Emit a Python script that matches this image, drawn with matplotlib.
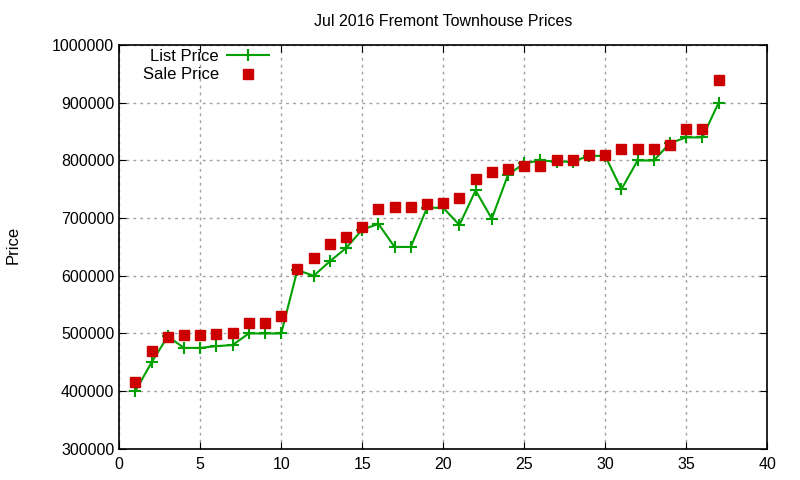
import numpy as np
import matplotlib
matplotlib.use('Agg')
import matplotlib.pyplot as plt

plt.rcParams['font.family'] = ['Liberation Sans', 'DejaVu Sans']

# 일자별 데이터 (1..37)
days = list(range(1, 38))
list_price = [400000, 450000, 495000, 475000, 475000, 478000, 480000, 500000, 500000, 500000,
              610000, 600000, 625000, 648000, 680000, 690000, 650000, 650000, 718000, 718000,
              688000, 748000, 699000, 775000, 795000, 800000, 798000, 798000, 808000, 808000,
              750000, 800000, 800000, 830000, 840000, 840000, 900000]
sale_price = [415000, 470000, 493000, 497000, 497000, 499000, 501000, 518000, 518000, 530000,
              612000, 630000, 655000, 668000, 685000, 716000, 720000, 720000, 725000, 727000,
              735000, 768000, 780000, 786000, 791000, 791000, 800000, 800000, 810000, 810000,
              820000, 820000, 820000, 826000, 855000, 855000, 940000]

title = 'Jul 2016 Fremont Townhouse Prices'
xticks = np.arange(0, 45, 5)
yticks = np.arange(300000, 1100000, 100000)

fig = plt.figure(figsize=(8, 4.8), dpi=100)
ax = fig.add_axes([0.149, 0.065, 0.81, 0.841])

ax.plot(days, list_price, color='#00a000', lw=1.5, marker='+', ms=9, mew=1.5, label='List Price')
ax.plot(days, sale_price, ls='none', color='#cc0000', marker='s', ms=7.5, label='Sale Price')

ax.set_xlim(0, 40)
ax.set_ylim(300000, 1000000)
ax.set_xticks(xticks)
ax.set_yticks(yticks)
ax.set_yticklabels([str(v) for v in yticks])
ax.tick_params(direction='in', top=True, right=True, labelsize=11.5, length=5)
ax.tick_params(axis='x', pad=6)
ax.grid(color='#a0a0a0', ls=(0, (2, 3)), lw=1)
for s in ax.spines.values():
    s.set_linewidth(1.2)

fig.text(0.016, 0.49, 'Price', rotation=90, fontsize=12, ha='center', va='center')
ax.set_title(title, fontsize=11.5, pad=14)

# 범례: 글자 오른쪽 정렬, 기호는 뒤에
leg = ax.legend(loc='upper right', bbox_to_anchor=(0.231, 0.99), frameon=False, fontsize=12,
                markerfirst=False, handlelength=2.5, handletextpad=0.5, labelspacing=0.2,
                borderaxespad=0, borderpad=0)
for t in leg.get_texts():
    t.set_ha('right')
leg._legend_box.align = 'right'

plt.savefig('out.png', dpi=100)
